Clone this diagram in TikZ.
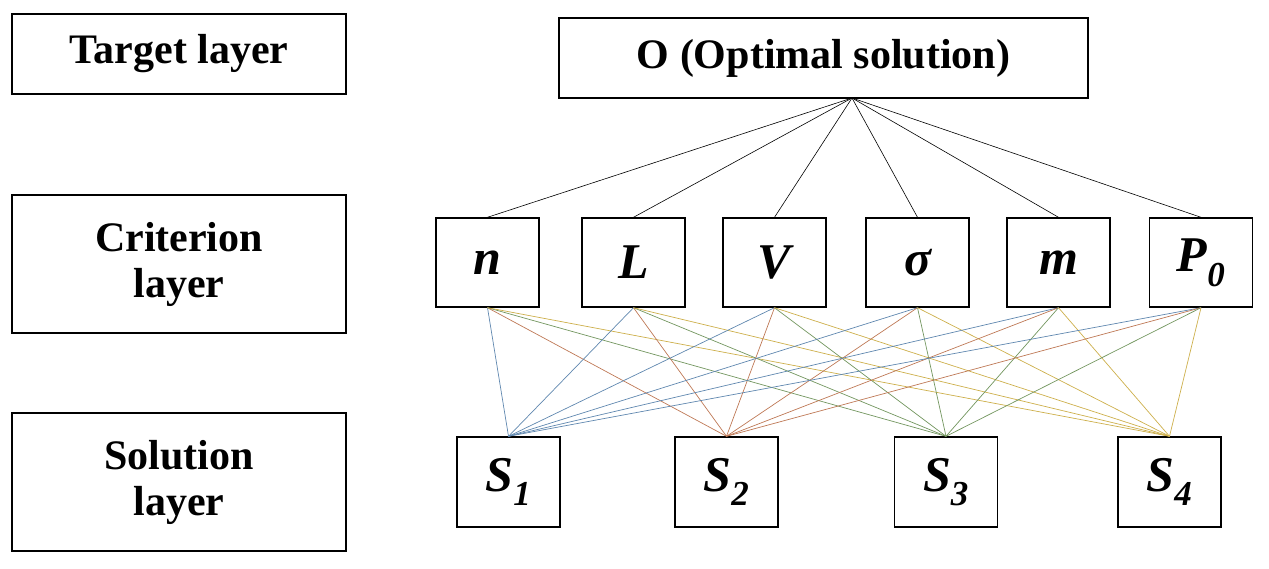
\documentclass[tikz,border=0pt]{standalone}
\usepackage{fontspec}
\setmainfont{Liberation Serif}
\begin{document}
\begin{tikzpicture}[x=1pt,y=-1pt,
  box/.style={draw,line width=1.6pt,inner sep=0pt,font=\bfseries\fontsize{42}{46}\selectfont,align=center},
  cbox/.style={draw,line width=1.4pt,minimum width=103pt,minimum height=89pt,inner sep=0pt,font=\bfseries\itshape\fontsize{50}{54}\selectfont},
  sbox/.style={draw,line width=1.4pt,minimum width=103pt,minimum height=90pt,inner sep=0pt,font=\bfseries\itshape\fontsize{50}{54}\selectfont},
  tl/.style={line width=0.6pt},
  c1/.style={line width=0.7pt,color={rgb,255:red,95;green,135;blue,175}},
  c2/.style={line width=0.7pt,color={rgb,255:red,190;green,120;blue,85}},
  c3/.style={line width=0.7pt,color={rgb,255:red,115;green,150;blue,95}},
  c4/.style={line width=0.7pt,color={rgb,255:red,205;green,175;blue,75}}]
\useasboundingbox (0,0) rectangle (1269,569);
\node[box,minimum width=334pt,minimum height=80pt] (tlay) at (179,54) {Target layer};
\node[box,minimum width=334pt,minimum height=138pt] (clay) at (179,264) {Criterion\\layer};
\node[box,minimum width=334pt,minimum height=138pt] (slay) at (179,482) {Solution\\layer};
\node[box,minimum width=529pt,minimum height=80pt] (O) at (823.5,58) {O (Optimal solution)};
\node[cbox] (n) at (487.5,262.5) {n};
\node[cbox] (L) at (633.5,262.5) {L};
\node[cbox] (V) at (774.5,262.5) {V};
\node[cbox] (sg) at (917.5,262.5) {σ};
\node[cbox] (m) at (1058.5,262.5) {m};
\node[cbox] (P) at (1201,262.5) {P\textsubscript{0}};
\node[sbox] (S1) at (508.5,482) {S\textsubscript{1}};
\node[sbox] (S2) at (726.5,482) {S\textsubscript{2}};
\node[sbox] (S3) at (946,482) {S\textsubscript{3}};
\node[sbox] (S4) at (1169.5,482) {S\textsubscript{4}};
\coordinate (Ob) at (852,98);
\foreach \c in {n,L,V,sg,m,P} {
  \draw[tl] (Ob) -- (\c.north);
  \draw[c1] (\c.south) -- (S1.north);
  \draw[c2] (\c.south) -- (S2.north);
  \draw[c3] (\c.south) -- (S3.north);
  \draw[c4] (\c.south) -- (S4.north);
}
\end{tikzpicture}
\end{document}
